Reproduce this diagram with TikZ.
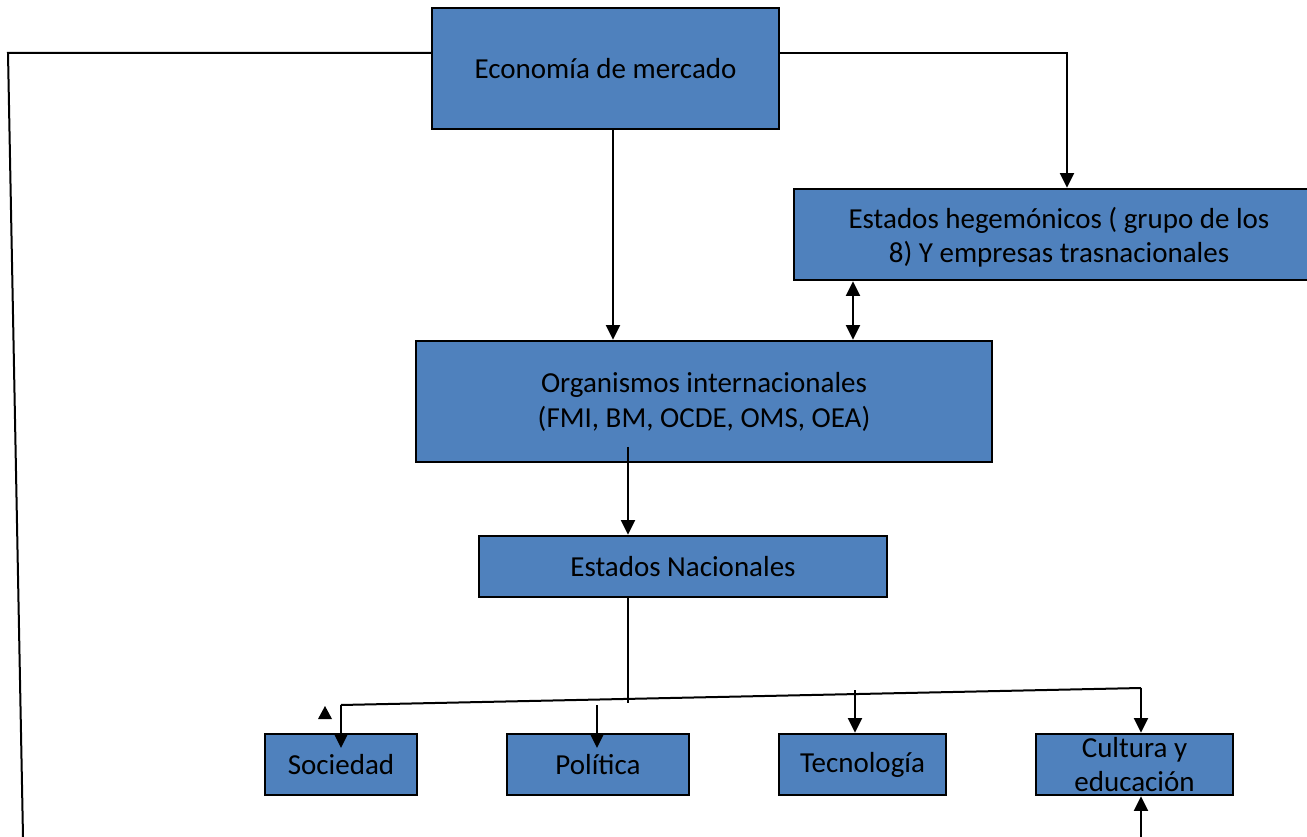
\documentclass[tikz,border=0pt]{standalone}
\usepackage{fontspec}
\setmainfont{Carlito}
\usetikzlibrary{arrows.meta}
\definecolor{boxblue}{HTML}{4F81BD}
\begin{document}
\begin{tikzpicture}[x=0.75pt,y=-0.75pt,
  box/.style={draw=black,line width=1.8pt,fill=boxblue,inner sep=0pt,align=center,
    font=\fontsize{21.75}{25.5}\selectfont},
  conn/.style={line width=1.5pt,draw=black},
  arr/.style={conn,-{Triangle[width=10.5pt,length=11pt]}},
  darr/.style={conn,{Triangle[width=10.5pt,length=11pt]}-{Triangle[width=10.5pt,length=11pt]}},
  ]
\useasboundingbox (0,0) rectangle (1307,837);
\clip (0,0) rectangle (1307,837);
\fill[white] (0,0) rectangle (1307,837);

\node[box,minimum width=260.25pt,minimum height=90.75pt] (econ) at (605.5,68.5) {Economía de mercado};
\node[box,minimum width=397.5pt,minimum height=68.25pt,text depth=0pt] (heg) at (1059,234.5) {Estados hegemónicos ( grupo de los\\8) Y empresas trasnacionales};
\node[box,minimum width=432pt,minimum height=90.75pt,font=\fontsize{21.75}{26.25}\selectfont] (org) at (704,401.5) {Organismos internacionales\\(FMI, BM, OCDE, OMS, OEA)};
\node[box,minimum width=306pt,minimum height=45.75pt] (nac) at (683,566.5) {Estados Nacionales};
\node[box,minimum width=114pt,minimum height=45.75pt] (soc) at (341,764.5) {Sociedad};
\node[box,minimum width=136.5pt,minimum height=45.75pt] (pol) at (598,764.5) {Política};
\node[box,minimum width=125.25pt,minimum height=45.75pt] (tec) at (862.5,764.5) {Tecnología};
\node[box,minimum width=147.75pt,minimum height=45.75pt,font=\fontsize{21.75}{25}\selectfont] (cul) at (1134.5,764.5) {Cultura y\\educación};

% connectors
\coordinate (lt) at (8,53);
\coordinate (lb) at (23,837);
\draw[conn] (econ.west |- lt) -- (lt) -- (lb);
\coordinate (rt) at (1067,53);
\draw[arr] (econ.east |- rt) -- (rt) -- (rt |- heg.north);
\coordinate (ea) at (613,0);
\draw[arr] (econ.south -| ea) -- (org.north -| ea);
\coordinate (da) at (853,0);
\draw[darr] (heg.south -| da) -- (org.north -| da);
\coordinate (oa) at (628,447);
\draw[arr] (oa) -- (oa |- nac.north);
\coordinate (bm) at (628,703);
\draw[conn] (nac.south -| bm) -- (bm);
\coordinate (bl) at (341,705);
\coordinate (br) at (1141,688);
\draw[conn] (bl) -- (br);
\coordinate (sa) at (341,748);
\draw[arr] (bl) -- (sa);
\coordinate (pa0) at (597,705);
\coordinate (pa1) at (597,748);
\draw[arr] (pa0) -- (pa1);
\coordinate (ta) at (855,690);
\draw[arr] (ta) -- (ta |- tec.north);
\draw[arr] (br) -- (br |- cul.north);
\coordinate (cb) at (1141,837);
\draw[arr] (cb) -- (cb |- cul.south);
\fill[black] (318,719) -- (332,719) -- (325,706) -- cycle;
\end{tikzpicture}
\end{document}
